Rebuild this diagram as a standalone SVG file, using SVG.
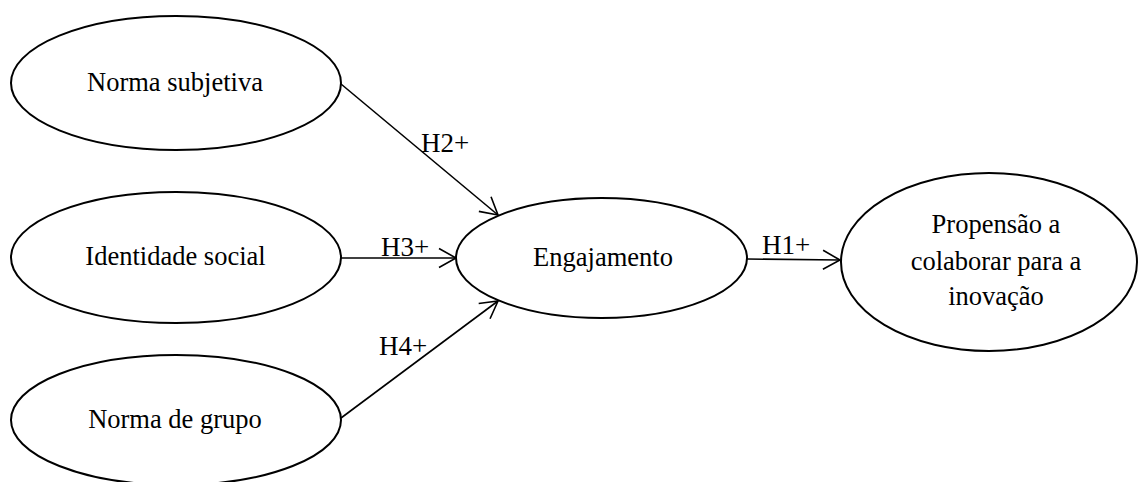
<svg xmlns="http://www.w3.org/2000/svg" width="1139" height="482" viewBox="0 0 1139 482">
  <style>
    .node ellipse { fill: #ffffff; stroke: #000000; stroke-width: 2; }
    .node text, .label { font-family: "Liberation Serif", "Times New Roman", serif; font-size: 26.5px; fill: #000000; text-anchor: middle; }
    .label { font-size: 27px; text-anchor: start; }
    .edge { stroke: #000000; stroke-width: 1.6; fill: none; marker-end: url(#arrow); }
  </style>
  <defs>
    <marker id="arrow" markerUnits="userSpaceOnUse" markerWidth="20" markerHeight="22" viewBox="-18 -11 20 22" refX="0" refY="0" orient="auto">
      <path d="M-17,-9.5 L0,0 L-17,9.5" fill="none" stroke="#000000" stroke-width="1.6"/>
    </marker>
  </defs>

  <g id="connectors">
    <line class="edge" x1="341" y1="84" x2="498" y2="215"/>
    <line class="edge" x1="341" y1="258" x2="456" y2="258"/>
    <line class="edge" x1="341" y1="418" x2="498" y2="301"/>
    <line class="edge" x1="747" y1="259" x2="840" y2="260"/>
    <text class="label" x="421" y="152">H2+</text>
    <text class="label" x="381" y="256">H3+</text>
    <text class="label" x="379" y="355">H4+</text>
    <text class="label" x="762" y="254">H1+</text>
  </g>

  <g id="norma-subjetiva" class="node">
    <ellipse cx="176" cy="83" rx="165" ry="67"/>
    <text x="175" y="91">Norma subjetiva</text>
  </g>

  <g id="identidade-social" class="node">
    <ellipse cx="176" cy="257.5" rx="165" ry="65.5"/>
    <text x="175.5" y="265">Identidade social</text>
  </g>

  <g id="norma-de-grupo" class="node">
    <ellipse cx="176" cy="420" rx="165" ry="65"/>
    <text x="175" y="428">Norma de grupo</text>
  </g>

  <g id="engajamento" class="node">
    <ellipse cx="601.5" cy="258" rx="145.5" ry="60"/>
    <text x="603" y="266">Engajamento</text>
  </g>

  <g id="propensao" class="node">
    <ellipse cx="989" cy="262" rx="148" ry="89"/>
    <text x="996" y="233">Propensão a</text>
    <text x="996" y="270">colaborar para a</text>
    <text x="996" y="305">inovação</text>
  </g>
</svg>
